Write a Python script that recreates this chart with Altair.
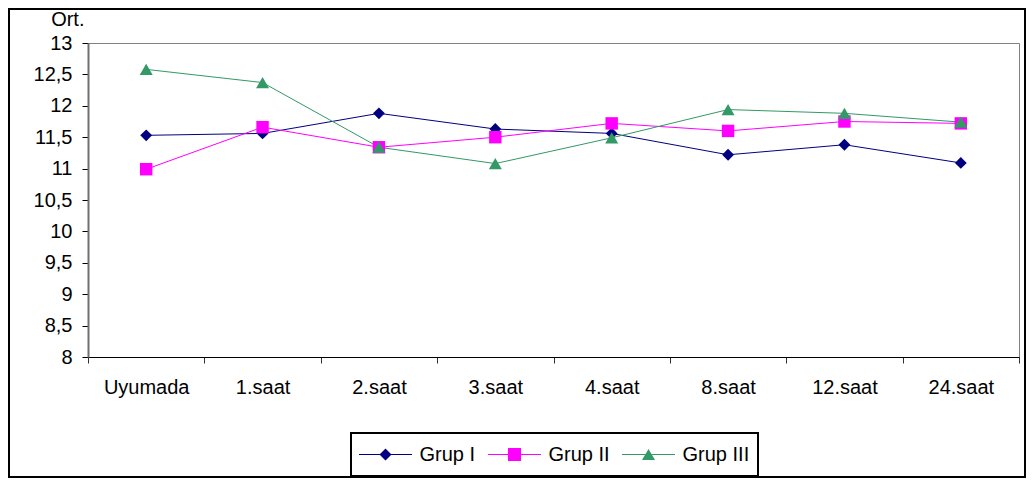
import altair as alt
import pandas as pd

categories = ["Uyumada", "1.saat", "2.saat", "3.saat", "4.saat", "8.saat", "12.saat", "24.saat"]
groups = ["Grup I", "Grup II", "Grup III"]
grup_1 = [11.53, 11.56, 11.88, 11.63, 11.56, 11.22, 11.38, 11.09]
grup_2 = [10.99, 11.66, 11.34, 11.50, 11.72, 11.60, 11.75, 11.72]
grup_3 = [12.58, 12.37, 11.34, 11.08, 11.49, 11.94, 11.88, 11.74]
y_ticks = [8, 8.5, 9, 9.5, 10, 10.5, 11, 11.5, 12, 12.5, 13]
colors = ["#000080", "#FF00FF", "#339966"]
shapes = ["diamond", "square", "triangle-up"]
legend_paths = [
    "M-26.5,-0.5H26.5V0.5H-26.5Z M-6,0L0,-6L6,0L0,6Z",
    "M-26.5,-0.5H26.5V0.5H-26.5Z M-6.5,-6.5H6.5V6.5H-6.5Z",
    "M-26.5,-0.5H26.5V0.5H-26.5Z M0,-5.6L6.5,5.6L-6.5,5.6Z",
]

rows = []
for g, vals in zip(groups, [grup_1, grup_2, grup_3]):
    for c, v in zip(categories, vals):
        rows.append({"saat": c, "grup": g, "ort": v})
df = pd.DataFrame(rows)

FONT = "Liberation Sans"
FS = 20

x_enc = alt.X(
    "saat:N",
    sort=categories,
    bandPosition=0.5,
    scale=alt.Scale(type="band", paddingInner=0, paddingOuter=0),
    axis=alt.Axis(
        title=None, labelAngle=0, tickBand="extent", tickSize=6,
        tickColor="#303030", domainColor="black", domainWidth=1,
        labelPadding=14, labelFontSize=FS, labelFont=FONT, labelColor="black",
        grid=False,
    ),
)
y_enc = alt.Y(
    "ort:Q",
    scale=alt.Scale(domain=[8, 13], nice=False, zero=False),
    axis=alt.Axis(
        title="Ort.", titleAngle=0, titleAlign="right", titleBaseline="alphabetic",
        titleX=-4, titleY=-18, titleFont=FONT, titleFontSize=FS,
        titleFontWeight="normal", titleColor="black",
        values=y_ticks, labelExpr="replace(toString(datum.value), '.', ',')",
        tickSize=6, tickColor="black", domainColor="#707070", domainWidth=2,
        labelPadding=10, labelFontSize=FS, labelFont=FONT, labelColor="black",
        grid=False,
    ),
)

color_scale = alt.Scale(domain=groups, range=colors)

lines = alt.Chart(df).mark_line(strokeWidth=1).encode(
    x=x_enc, y=y_enc,
    color=alt.Color("grup:N", scale=color_scale, legend=None),
    detail="grup:N",
)

points = alt.Chart(df).mark_point(filled=True, opacity=1, size=160).encode(
    x=x_enc, y=y_enc,
    color=alt.Color("grup:N", scale=color_scale, legend=None),
    shape=alt.Shape("grup:N", scale=alt.Scale(domain=groups, range=shapes), legend=None),
    size=alt.Size("grup:N", scale=alt.Scale(domain=groups, range=[140, 169, 175]), legend=None),
)

leg = alt.Legend(
    title=None, orient="none", legendX=263, legendY=390, direction="horizontal",
    symbolSize=4, symbolOffset=16.5, labelOffset=24, clipHeight=27,
    columnPadding=12, padding=8, labelFont=FONT, labelFontSize=FS,
    labelColor="black", strokeColor="black", fillColor="white",
    symbolStrokeWidth=0,
)

legend_layer = alt.Chart(df).transform_filter("false").mark_point(
    filled=True, opacity=1, size=4
).encode(
    x=x_enc, y=y_enc,
    color=alt.Color("grup:N", scale=alt.Scale(domain=groups, range=colors), legend=leg),
    shape=alt.Shape("grup:N", scale=alt.Scale(domain=groups, range=legend_paths), legend=leg),
)

border = alt.Chart(pd.DataFrame({"b": [0]})).mark_rect(
    fill=None, stroke="black", strokeWidth=2
).encode(
    x=alt.value(-79), x2=alt.value(937), y=alt.value(-34), y2=alt.value(434)
)

chart = alt.layer(lines, points, legend_layer, border).resolve_scale(
    color="independent", shape="independent", size="independent"
).properties(
    width=931, height=314,
    autosize=alt.AutoSizeParams(type="none"),
    padding={"left": 80, "top": 35, "right": 7, "bottom": 121},
    background="white",
).configure_view(
    stroke="#808080", strokeWidth=1
).configure_legend(
    strokeWidth=2
)

chart.save("out.html", embed_options={"renderer": "svg", "actions": False})
